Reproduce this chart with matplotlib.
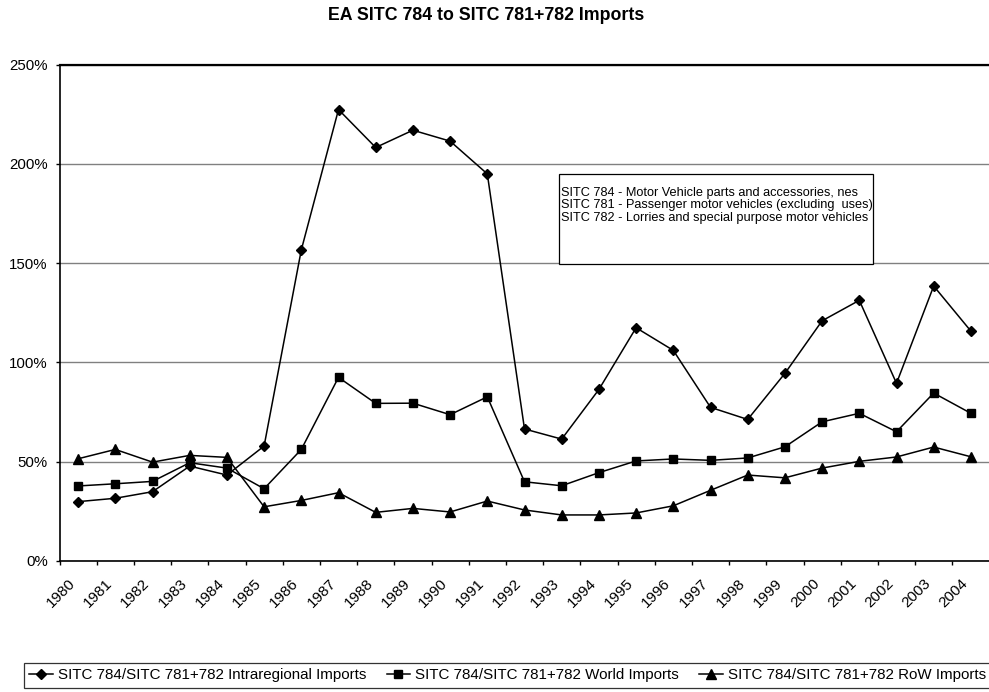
import matplotlib
matplotlib.use("Agg")
import matplotlib.pyplot as plt
from matplotlib.patches import Rectangle
from matplotlib.ticker import FuncFormatter, FixedLocator

plt.rcParams['font.family'] = ['Liberation Sans', 'DejaVu Sans']

years = [str(y) for y in range(1980, 2005)]
intraregional = [29.9, 31.6, 34.9, 47.8, 43.3, 57.9, 156.7, 227.4, 208.3, 217.0, 211.5, 195.0,
                 66.5, 61.4, 86.4, 117.5, 106.1, 77.4, 71.3, 94.5, 121.0, 131.3, 89.5, 138.5, 115.8]
world = [37.8, 38.9, 40.1, 49.5, 46.8, 36.4, 56.2, 92.5, 79.4, 79.5, 73.7, 82.7,
         39.9, 37.9, 44.5, 50.4, 51.4, 50.7, 51.9, 57.5, 70.1, 74.4, 65.1, 84.6, 74.4]
row = [51.5, 56.2, 49.8, 53.2, 52.2, 27.3, 30.5, 34.4, 24.5, 26.5, 24.7, 30.2,
       25.7, 23.2, 23.2, 24.2, 27.8, 35.6, 43.3, 41.9, 46.8, 50.2, 52.4, 57.4, 52.5]
series_names = ["SITC 784/SITC 781+782 Intraregional Imports",
                "SITC 784/SITC 781+782 World Imports",
                "SITC 784/SITC 781+782 RoW Imports"]
note_lines = ["SITC 784 - Motor Vehicle parts and accessories, nes",
              "SITC 781 - Passenger motor vehicles (excluding  uses)",
              "SITC 782 - Lorries and special purpose motor vehicles"]
title = "EA SITC 784 to SITC 781+782 Imports"

W, H = 989, 692
fig = plt.figure(figsize=(W / 100, H / 100), dpi=100)
left, right, top, bottom = 59.5, 989.5, 64.7, 561
ax = fig.add_axes([left / W, 1 - bottom / H, (right - left) / W, (bottom - top) / H])

x = [i + 0.5 for i in range(len(years))]
ax.plot(x, [v / 100 for v in intraregional], color='black', lw=1.1, marker='D', ms=5.5,
        label=series_names[0], clip_on=False, zorder=5)
ax.plot(x, [v / 100 for v in world], color='black', lw=1.1, marker='s', ms=6,
        label=series_names[1], clip_on=False, zorder=5)
ax.plot(x, [v / 100 for v in row], color='black', lw=1.1, marker='^', ms=6.8,
        label=series_names[2], clip_on=False, zorder=5)

ax.set_xlim(0, len(years))
ax.set_ylim(0, 2.5)
ax.set_yticks([0, 0.5, 1.0, 1.5, 2.0, 2.5])
ax.yaxis.set_major_formatter(FuncFormatter(lambda v, p: f"{v*100:.0f}%"))
ax.grid(axis='y', color='#808080', lw=1.0, zorder=0)
ax.set_axisbelow(True)

ax.xaxis.set_major_locator(FixedLocator(list(range(len(years) + 1))))
ax.xaxis.set_minor_locator(FixedLocator(x))
ax.set_xticklabels([], minor=False)
ax.set_xticklabels(years, minor=True, rotation=45, ha='right', va='top', fontsize=11)
ax.tick_params(axis='x', which='major', length=3, width=1, color='black')
ax.tick_params(axis='x', which='minor', length=0, pad=11)
ax.tick_params(axis='y', length=3, width=1, pad=5.5, labelsize=10.8)

for s in ['left', 'bottom']:
    ax.spines[s].set_linewidth(1.2)
ax.spines['top'].set_linewidth(1.6)
ax.spines['right'].set_visible(False)

fig.text(486 / W, 1 - 15.5 / H, title, ha='center', va='center', fontsize=12.8, fontweight='bold')

# note box
bx0, by0, bx1, by1 = 559, 174, 873, 264
rect = Rectangle((bx0 / W, 1 - by1 / H), (bx1 - bx0) / W, (by1 - by0) / H,
                 transform=fig.transFigure, facecolor='white', edgecolor='black', lw=0.9, zorder=10)
fig.add_artist(rect)
for k, line in enumerate(note_lines):
    fig.text(561 / W, 1 - (193 + 12.3 * k) / H, line, ha='left', va='center', fontsize=9.2, zorder=11)

leg = fig.legend(loc='upper left', bbox_to_anchor=(24 / W, 1 - 663 / H), ncol=3, fontsize=10.9,
                 frameon=True, fancybox=False, edgecolor='black', handlelength=1.55,
                 handletextpad=0.33, columnspacing=1.35, borderpad=0.35, borderaxespad=0)
leg.get_frame().set_linewidth(0.9)

fig.savefig("out.png", dpi=100)
